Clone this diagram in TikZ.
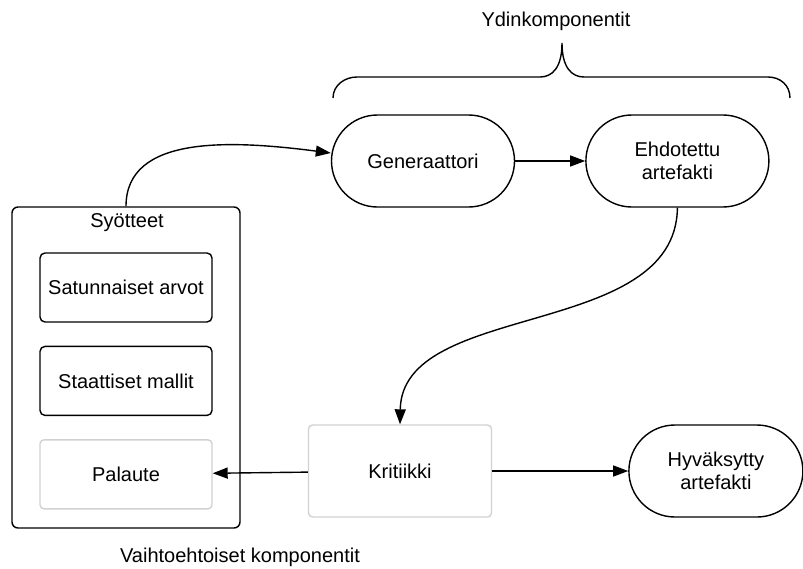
\documentclass[tikz,border=0pt]{standalone}
\usepackage{fontspec}
\setmainfont{Liberation Sans}
\usetikzlibrary{positioning, arrows.meta}
\tikzstyle{pill} = [rectangle, rounded corners=46pt, minimum width=183pt, minimum height=92pt, text centered, align=center, draw=black, line width=1.4pt]
\tikzstyle{inputbox} = [rectangle, rounded corners=5pt, minimum width=172pt, minimum height=69pt, inner sep=2pt, text centered, draw=black, line width=1.4pt]
\tikzstyle{softbox} = [rectangle, rounded corners=4pt, text centered, draw=black!18, line width=1.4pt]
\tikzstyle{arrow} = [line width=1.4pt, -{Triangle[length=15pt,width=11pt]}]

\begin{document}
\begin{tikzpicture}[x=1pt, y=-1pt, font=\fontsize{20}{23}\selectfont]
			\useasboundingbox (0,0) rectangle (803,568);
			% core components
			\node (gen) [pill] at (423,161) {Generaattori};
			\node (ehd) [pill, right=70pt of gen] {Ehdotettu\\artefakti};
			\node (core) at (556,21) {Ydinkomponentit};
			\draw [line width=1.4pt] (333,98) .. controls (333,85) and (345,77) .. (357,77) -- (540,77)
				.. controls (552,77) and (562,68) .. (562,43)
				.. controls (562,68) and (572,77) .. (584,77) -- (768,77)
				.. controls (780,77) and (790,85) .. (790,98);
			
			% inputs
			\node (syo) [rectangle, rounded corners=6pt, draw=black, line width=1.4pt, minimum width=228pt, minimum height=321pt] at (126,367.5) {};
			\node (syotitle) at (127,223) {Syötteet};
			\node (sat) [inputbox] at (126,287.5) {Satunnaiset arvot};
			\node (sta) [inputbox, below=23pt of sat] {Staattiset mallit};
			\node (pal) [inputbox, softbox, below=23pt of sta] {Palaute};
			
			% alternative components
			\node (krit) [softbox, minimum width=183pt, minimum height=92pt] at (400,471) {Kritiikki};
			\node (hyv) [pill, minimum width=174pt, right=136pt of krit] {Hyväksytty\\artefakti};
			\node (alt) at (240,557) {Vaihtoehtoiset komponentit};
			
			\draw [arrow] (syo.north) .. controls (126,135) and (230,140) .. ([yshift=8pt]gen.west);
			\draw [arrow] (gen) -- (ehd);
			\draw [arrow] (ehd.south) .. controls (676,340) and (402,300) .. (krit.north);
			\draw [arrow] (krit) -- (pal);
			\draw [arrow] (krit) -- (hyv);
		\end{tikzpicture}
\end{document}
